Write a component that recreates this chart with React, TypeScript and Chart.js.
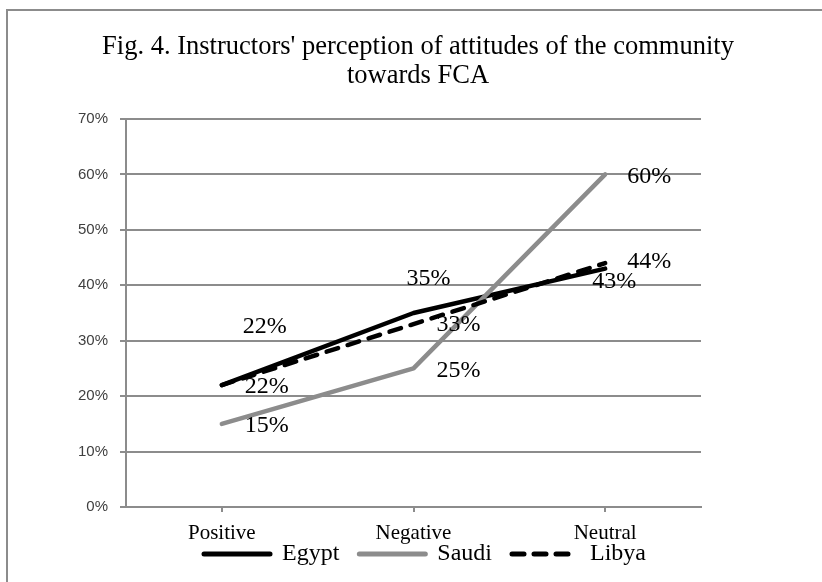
import React, { useEffect, useRef } from "react";
import { Chart, registerables } from "chart.js";

Chart.register(...registerables);

const categories = ["Positive", "Negative", "Neutral"];
const seriesNames = ["Egypt", "Saudi", "Libya"];
const egyptValues = [22, 35, 43];
const saudiValues = [15, 25, 60];
const libyaValues = [22, 33, 44];
const yTicks = [0, 10, 20, 30, 40, 50, 60, 70];
const titleLines = ["Fig. 4. Instructors' perception of attitudes of the community", "towards FCA"];

const GRAY = "#8c8c8c";
const SERIF = "'Liberation Serif', 'Times New Roman', serif";

// per-point label offsets (pixels) relative to each point
const labelOffsets = [
  [[43, -58], [15, -34], [9, 13]],
  [[45, 2], [45, 2], [44, 2]],
  [[45, 2], [45, 1], [44, -1]],
];

const dataLabelPlugin = {
  id: "dataLabelPlugin",
  afterDatasetsDraw(chart: any) {
    const ctx = chart.ctx;
    ctx.save();
    ctx.font = `24px ${SERIF}`;
    ctx.fillStyle = "#000";
    ctx.textAlign = "center";
    ctx.textBaseline = "middle";
    chart.data.datasets.forEach((ds: any, di: number) => {
      const meta = chart.getDatasetMeta(di);
      meta.data.forEach((el: any, i: number) => {
        const off = labelOffsets[di][i];
        ctx.fillText(`${ds.data[i]}%`, el.x + off[0], el.y + off[1]);
      });
    });
    ctx.restore();
  },
};

const legendNudge = {
  id: "legendNudge",
  afterLayout(chart: any) {
    const lg = chart.legend;
    if (lg) {
      lg.left += 7;
      lg.right += 7;
      lg.top -= 33;
      lg.bottom -= 33;
    }
  },
};

export default function App() {
  const ref = useRef<HTMLCanvasElement>(null);
  useEffect(() => {
    if (!ref.current) return;
    const chart = new Chart(ref.current, {
      type: "line",
      data: {
        labels: categories,
        datasets: [
          {
            label: seriesNames[0],
            data: egyptValues,
            borderColor: "#000",
            backgroundColor: "#000",
            borderWidth: 4.5,
            pointRadius: 0,
            borderCapStyle: "round",
            borderJoinStyle: "round",
            order: 3,
          },
          {
            label: seriesNames[1],
            data: saudiValues,
            borderColor: GRAY,
            backgroundColor: GRAY,
            borderWidth: 4.5,
            pointRadius: 0,
            borderCapStyle: "round",
            borderJoinStyle: "round",
            order: 2,
          },
          {
            label: seriesNames[2],
            data: libyaValues,
            borderColor: "#000",
            backgroundColor: "#000",
            borderWidth: 4.5,
            borderDash: [12, 10],
            pointRadius: 0,
            borderCapStyle: "round",
            borderJoinStyle: "round",
            order: 1,
          },
        ],
      },
      options: {
        animation: false,
        responsive: false,
        layout: { padding: { left: 14, right: 0, top: 0, bottom: 1 } },
        plugins: {
          title: {
            display: true,
            text: titleLines,
            color: "#000",
            font: { family: SERIF, size: 26.5, weight: "normal", lineHeight: 29 / 26.5 },
            padding: { top: 32.5, bottom: 28.5 },
          },
          legend: {
            display: true,
            position: "bottom",
            labels: {
              usePointStyle: true,
              pointStyle: "line",
              pointStyleWidth: 66,
              boxHeight: 24,
              padding: 20,
              color: "#000",
              font: { family: SERIF, size: 24 },
              generateLabels: (chart: any) => {
                const items = (Chart.defaults as any).plugins.legend.labels.generateLabels(chart);
                return items.map((it: any) => {
                  const ds = chart.data.datasets[it.datasetIndex];
                  return {
                    ...it,
                    strokeStyle: ds.borderColor,
                    lineWidth: 5,
                    lineDash: ds.borderDash || [],
                    lineCap: "round",
                  };
                });
              },
              sort: (a: any, b: any) => a.datasetIndex - b.datasetIndex,
            },
          },
          tooltip: { enabled: false },
        },
        scales: {
          x: {
            type: "category",
            offset: true,
            grid: {
              display: true,
              drawOnChartArea: false,
              drawTicks: true,
              tickLength: 5,
              color: GRAY,
              lineWidth: 2,
            },
            border: { display: true, color: GRAY, width: 2 },
            ticks: {
              color: "#000",
              padding: 11,
              font: { family: SERIF, size: 21, lineHeight: 1 },
            },
          },
          y: {
            type: "linear",
            min: 0,
            max: 70,
            afterFit: (s: any) => {
              s.width = 112;
            },
            afterBuildTicks: (s: any) => {
              s.ticks = yTicks.map((v) => ({ value: v }));
            },
            grid: {
              color: GRAY,
              lineWidth: 2,
              tickLength: 6,
              drawTicks: true,
            },
            border: { display: true, color: GRAY, width: 2 },
            ticks: {
              color: "#404040",
              padding: 12,
              font: { family: "'Liberation Sans', Arial, sans-serif", size: 15 },
              callback: (v: any) => `${v}%`,
            },
          },
          y2: {
            type: "linear",
            position: "right",
            display: true,
            afterFit: (s: any) => {
              s.width = 121;
            },
            grid: { display: false, drawTicks: false },
            border: { display: false },
            ticks: { display: false },
          },
        },
      },
      plugins: [dataLabelPlugin, legendNudge],
    } as any);
    return () => chart.destroy();
  }, []);

  return (
    <div
      style={{
        position: "absolute",
        left: 0,
        top: 0,
        width: 822,
        height: 582,
        overflow: "hidden",
        background: "#fff",
      }}
    >
      <div
        style={{
          position: "absolute",
          left: 6,
          top: 9,
          width: 830,
          height: 620,
          borderTop: `2px solid ${GRAY}`,
          borderLeft: `2px solid ${GRAY}`,
        }}
      />
      <canvas ref={ref} width={822} height={610} style={{ position: "absolute", left: 0, top: 0 }} />
    </div>
  );
}
